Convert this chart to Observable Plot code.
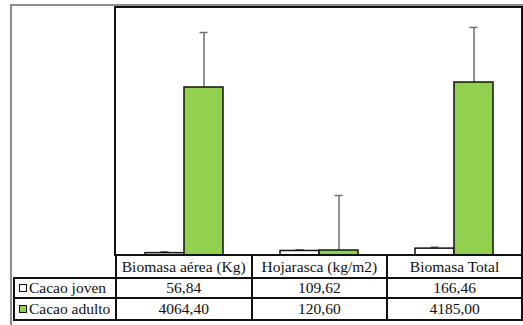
<!DOCTYPE html>
<html>
<head>
<meta charset="utf-8">
<script src="https://cdn.jsdelivr.net/npm/d3@7"></script>
<script src="https://cdn.jsdelivr.net/npm/@observablehq/plot@0.6"></script>
<style>
  html, body { margin: 0; padding: 0; background: #fff; }
  #wrap { position: relative; width: 523px; height: 325px; overflow: hidden; }
  #outer { position: absolute; left: 10px; top: 4px; width: 520px; height: 330px; border-top: 2px solid #8c8c8c; border-left: 2px solid #8c8c8c; box-sizing: border-box; }
  #chart { position: absolute; left: 0; top: 0; }
  #frame { position: absolute; left: 114px; top: 6px; width: 409px; height: 250px; border: 2px solid #111; box-sizing: border-box; pointer-events: none; }
  #tbl { position: absolute; left: 13px; top: 254px; border-collapse: collapse; table-layout: fixed; color: #111; }
  #tbl td { border: 2px solid #111; text-align: center; padding: 0; white-space: nowrap; font-family: 'Liberation Serif', 'Times New Roman', serif; font-size: 15.5px; line-height: 1; }
  #tbl td.blank { border: none; }
  #tbl td.leg { text-align: left; padding-left: 4px; }
  .sw { display: inline-block; width: 6px; height: 6px; border: 1.5px solid #111; margin-right: 2px; vertical-align: 1px; }
</style>
</head>
<body>
<div id="wrap">
  <div id="outer"></div>
  <div id="chart"></div>
  <div id="frame"></div>
  <table id="tbl"></table>
</div>
<script>
const categories = ["Biomasa aérea (Kg)", "Hojarasca (kg/m2)", "Biomasa Total"];
const seriesNames = ["Cacao joven", "Cacao adulto"];
const seriesColors = ["#ffffff", "#92d050"];
const joven = [56.84, 109.62, 166.46];
const adulto = [4064.40, 120.60, 4185.00];
const jovenErr = [33, 30, 35];
const adultoErr = [1330, 1330, 1332];

const rows = [];
categories.forEach((c, i) => {
  rows.push({cat: c, serie: seriesNames[0], value: joven[i], err: jovenErr[i]});
  rows.push({cat: c, serie: seriesNames[1], value: adulto[i], err: adultoErr[i]});
});

const chart = Plot.plot({
  width: 523,
  height: 256,
  marginLeft: 115,
  marginRight: 1,
  marginTop: 7,
  marginBottom: 1,
  fx: {domain: categories, padding: 0, axis: null},
  x: {domain: seriesNames, paddingInner: 0, paddingOuter: 0.72, axis: null},
  y: {domain: [0, 6000], axis: null},
  color: {domain: seriesNames, range: seriesColors},
  marks: [
    Plot.ruleX(rows, {fx: "cat", x: "serie", y1: "value", y2: d => d.value + d.err, stroke: "#6e6e6e", strokeWidth: 1.5}),
    Plot.tickY(rows, {fx: "cat", x: "serie", y: d => d.value + d.err, stroke: "#6e6e6e", strokeWidth: 1.5, insetLeft: 15.5, insetRight: 15.5}),
    Plot.barY(rows, {fx: "cat", x: "serie", y: "value", fill: "serie", stroke: "#111", strokeWidth: 1.5})
  ]
});
document.getElementById("chart").appendChild(chart);

// data table under the chart
const fmt = v => v.toFixed(2).replace(".", ",");
const tbl = document.getElementById("tbl");
const colW = [102, 136, 136, 136];
const cg = document.createElement("colgroup");
colW.forEach(w => { const c = document.createElement("col"); c.style.width = w + "px"; cg.appendChild(c); });
tbl.appendChild(cg);
const hr = document.createElement("tr");
hr.style.height = "23px";
const blank = document.createElement("td"); blank.className = "blank"; hr.appendChild(blank);
categories.forEach(c => { const td = document.createElement("td"); td.textContent = c; hr.appendChild(td); });
tbl.appendChild(hr);
[joven, adulto].forEach((vals, si) => {
  const tr = document.createElement("tr");
  tr.style.height = si === 0 ? "20px" : "22px";
  const lg = document.createElement("td"); lg.className = "leg";
  const sw = document.createElement("span"); sw.className = "sw"; sw.style.background = seriesColors[si];
  lg.appendChild(sw); lg.appendChild(document.createTextNode(seriesNames[si]));
  tr.appendChild(lg);
  vals.forEach(v => { const td = document.createElement("td"); td.textContent = fmt(v); tr.appendChild(td); });
  tbl.appendChild(tr);
});
</script>
</body>
</html>
